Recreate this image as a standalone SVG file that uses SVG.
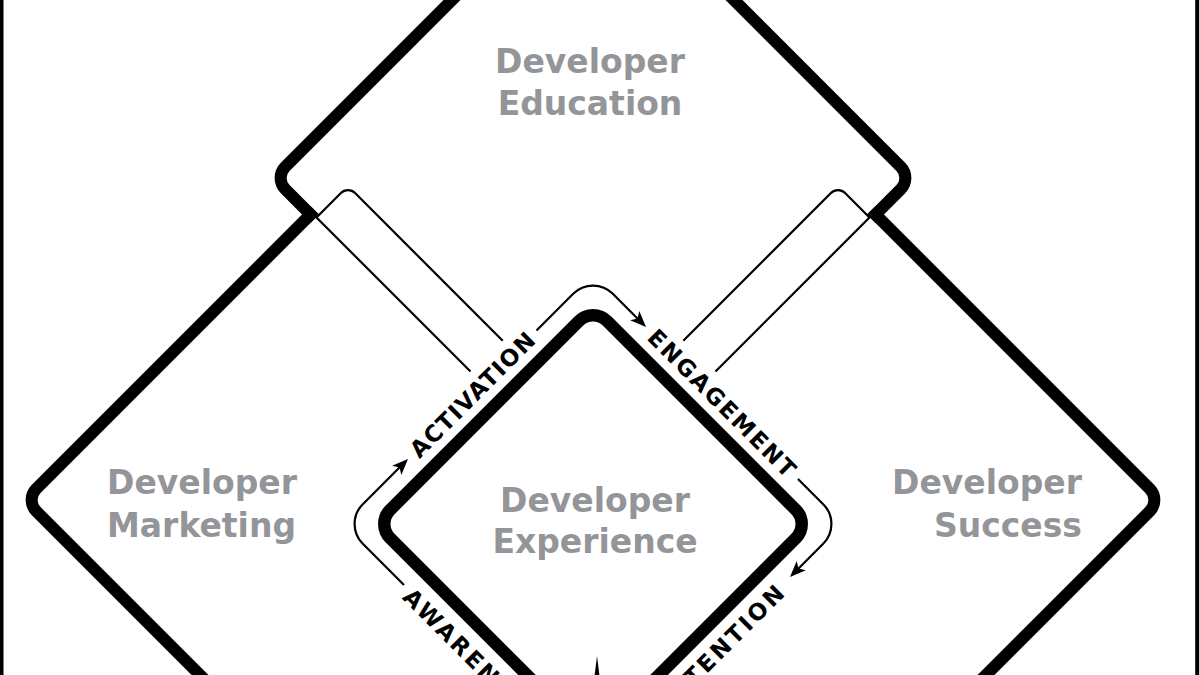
<svg xmlns="http://www.w3.org/2000/svg" width="1200" height="675" viewBox="0 0 1200 675">
  <defs>
    <style>
      .thick { fill: none; stroke: #000; stroke-width: 12; stroke-linecap: square; stroke-linejoin: miter; }
      .inner { fill: none; stroke: #000; stroke-width: 12.5; stroke-linejoin: round; }
      .thin { fill: none; stroke: #000; stroke-width: 2.2; stroke-linejoin: miter; }
      .flow { fill: none; stroke: #000; stroke-width: 2.2; marker-end: url(#arrow); }
      .name { font-family: "DejaVu Sans", "Liberation Sans", sans-serif; font-weight: bold; font-size: 33px; fill: #939598; }
      .stage { font-family: "DejaVu Sans", "Liberation Sans", sans-serif; font-weight: bold; font-size: 23px; fill: #000; text-anchor: middle; }
    </style>
    <marker id="arrow" viewBox="0 0 16 13" refX="12" refY="6.5" markerWidth="16" markerHeight="13" markerUnits="userSpaceOnUse" orient="auto">
      <path d="M0,0 L16,6.5 L0,13 L4,6.5 Z" fill="#000"/>
    </marker>
  </defs>
  <rect width="1200" height="675" fill="#fff"/>
  <rect x="0" y="0" width="3.5" height="675" fill="#000"/>
  <rect x="1195.2" y="0" width="4" height="675" fill="#000"/>

  <g id="node-marketing">
    <path class="thick" d="M 245,720 L 36.31,511.31 A 16 16 0 0 1 36.31,488.69 L 310.5,214.5"/>
    <text class="name" x="107" y="494.3">Developer</text>
    <text class="name" x="107" y="536.7">Marketing</text>
  </g>

  <g id="node-education">
    <path class="thick" d="M 310.5,214.5 L 285.31,189.31 A 16 16 0 0 1 285.31,166.69 L 593,-141 L 900.69,166.69 A 16 16 0 0 1 900.69,189.31 L 875.5,214.5"/>
    <text class="name" x="590" y="72.7" text-anchor="middle">Developer</text>
    <text class="name" x="590" y="115" text-anchor="middle">Education</text>
  </g>

  <g id="node-success">
    <path class="thick" d="M 875.5,214.5 L 1149.69,488.69 A 16 16 0 0 1 1149.69,511.31 L 941,720"/>
    <text class="name" x="1082" y="494.3" text-anchor="end">Developer</text>
    <text class="name" x="1082" y="536.7" text-anchor="end">Success</text>
  </g>

  <g id="node-experience">
    <path class="inner" d="M 578.86,321.14 A 20 20 0 0 1 607.14,321.14 L 795.86,509.86 A 20 20 0 0 1 795.86,538.14 L 607.14,726.86 A 20 20 0 0 1 578.86,726.86 L 390.14,538.14 A 20 20 0 0 1 390.14,509.86 Z"/>
    <text class="name" x="595" y="511.7" text-anchor="middle">Developer</text>
    <text class="name" x="595" y="553.3" text-anchor="middle">Experience</text>
  </g>

  <g id="connectors">
    <path class="thin" d="M 470.5,371.5 L 316.5,217.5 L 340.93,193.07 A 10 10 0 0 1 355.07,193.07 L 502.7,340.7"/>
    <path class="thin" d="M 715.5,371.5 L 869.5,217.5 L 845.07,193.07 A 10 10 0 0 0 830.93,193.07 L 683.3,340.7"/>
    <path class="flow" d="M 404,585 L 362.8,543.8 A 28 28 0 0 1 362.8,504.2 L 405.2,461.8"/>
    <path class="flow" d="M 536.5,330.5 L 573.2,293.8 A 28 28 0 0 1 612.8,293.8 L 643.2,324.2"/>
    <path class="flow" d="M 798,479 L 823.2,504.2 A 28 28 0 0 1 823.2,543.8 L 792.8,574.2"/>
    <polygon points="597,656 594.5,676 599.5,676" fill="#000"/>
    <text class="stage" transform="translate(472.3,394.8) rotate(-45)" y="8.3" textLength="166" lengthAdjust="spacing">ACTIVATION</text>
    <text class="stage" transform="translate(722,403) rotate(45)" y="8.3" textLength="198" lengthAdjust="spacing">ENGAGEMENT</text>
    <text class="stage" transform="translate(471,656) rotate(45)" y="8.3" textLength="180" lengthAdjust="spacing">AWARENESS</text>
    <text class="stage" transform="translate(720,649) rotate(-45)" y="8.3" textLength="170" lengthAdjust="spacing">RETENTION</text>
  </g>
</svg>
